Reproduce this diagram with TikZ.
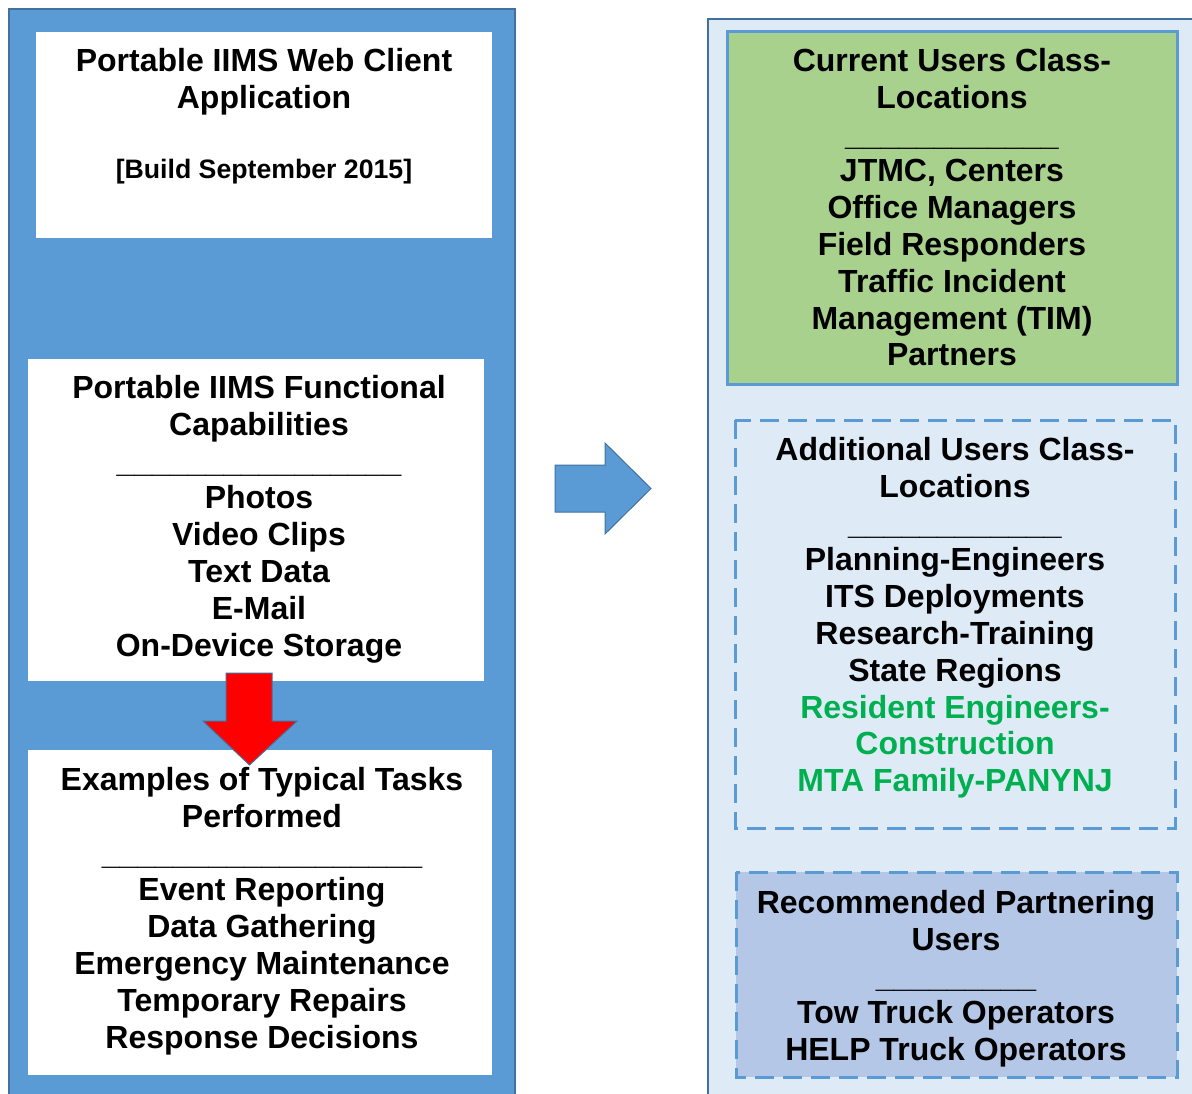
\documentclass[tikz,border=0pt]{standalone}
\usepackage{fontspec}
\setmainfont{Liberation Sans}
\definecolor{leftblue}{HTML}{5B9BD5}
\definecolor{darkedge}{HTML}{41719C}
\definecolor{rightbg}{HTML}{DEEBF7}
\definecolor{greenfill}{HTML}{A9D18E}
\definecolor{boxthree}{HTML}{B4C7E7}
\definecolor{greentext}{HTML}{00B050}
\definecolor{redfill}{HTML}{FF0000}
\newcommand{\blk}[1]{\begin{tabular}[t]{@{}c@{}}#1\end{tabular}}
\begin{document}
\begin{tikzpicture}[x=1pt,y=-1pt,
  txt/.style={inner sep=0pt,anchor=base,font=\fontsize{32}{36.8}\selectfont\bfseries},
  whitebox/.style={fill=white,draw=none},
  dashbox/.style={draw=leftblue,line width=3pt,dash pattern=on 19pt off 9pt},
  arrowshape/.style={draw=darkedge,line width=1pt,line join=miter}]
\useasboundingbox (0,0) rectangle (1192,1093);
% left column
\path[fill=leftblue,draw=darkedge,line width=2pt] (9,9) rectangle (515,1110);
\path[whitebox] (36,32) rectangle (492,238);
\path[whitebox] (28,359) rectangle (484,681);
\path[whitebox] (28,750) rectangle (492,1075);
\node[txt] (t1) at (264,71.5) {\blk{Portable IIMS Web Client\\Application}};
\node[txt,font=\fontsize{26.67}{30}\selectfont\bfseries] (t1b) at (264,178.5) {[Build September 2015]};
\node[txt] (t2) at (259,398.5) {\blk{Portable IIMS Functional\\Capabilities\\\_\_\_\_\_\_\_\_\_\_\_\_\_\_\_\_\\Photos\\Video Clips\\Text Data\\E-Mail\\On-Device Storage}};
\node[txt] (t3) at (262,790.5) {\blk{Examples of Typical Tasks\\Performed\\\_\_\_\_\_\_\_\_\_\_\_\_\_\_\_\_\_\_\\Event Reporting\\Data Gathering\\Emergency Maintenance\\Temporary Repairs\\Response Decisions}};
% red arrow
\path[arrowshape,fill=redfill] (226,673) -- (272,673) -- (272,721) -- (297,721) -- (249.5,765) -- (203,721) -- (226,721) -- cycle;
% blue arrow
\path[arrowshape,fill=leftblue] (555,465) -- (605,465) -- (605,443) -- (651,488.5) -- (605,534) -- (605,512) -- (555,512) -- cycle;
% right column
\path[fill=rightbg,draw=darkedge,line width=2.5pt] (708,19) rectangle (1210,1110);
\path[fill=greenfill,draw=leftblue,line width=3pt] (727,31) rectangle (1177,384);
\path[dashbox,fill=rightbg] (735,420) rectangle (1175,828);
\path[dashbox,fill=boxthree] (736,872) rectangle (1177,1077);
\node[txt] (t4) at (952,71.5) {\blk{Current Users Class-\\Locations\\\_\_\_\_\_\_\_\_\_\_\_\_\\JTMC, Centers\\Office Managers\\Field Responders\\Traffic Incident\\Management (TIM)\\Partners}};
\node[txt] (t5) at (955,460.5) {\blk{Additional Users Class-\\Locations\\\_\_\_\_\_\_\_\_\_\_\_\_\\Planning-Engineers\\ITS Deployments\\Research-Training\\State Regions\\\textcolor{greentext}{Resident Engineers-}\\\textcolor{greentext}{Construction}\\\textcolor{greentext}{MTA Family-PANYNJ}}};
\node[txt] (t6) at (956,913.5) {\blk{Recommended Partnering\\Users\\\_\_\_\_\_\_\_\_\_\\Tow Truck Operators\\HELP Truck Operators}};
\end{tikzpicture}
\end{document}
